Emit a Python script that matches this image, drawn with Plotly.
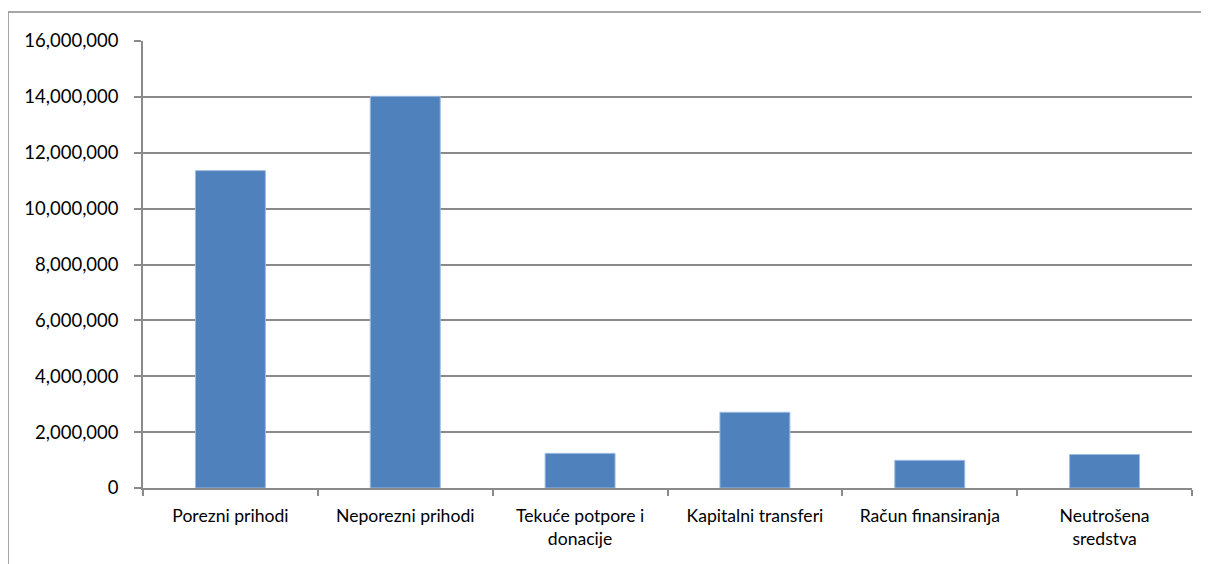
import plotly.graph_objects as go

categories = ["Porezni prihodi", "Neporezni prihodi", "Tekuće potpore i<br>donacije",
              "Kapitalni transferi", "Račun finansiranja", "Neutrošena<br>sredstva"]
values = [11360000, 14020000, 1240000, 2710000, 990000, 1200000]
y_ticks = [0, 2000000, 4000000, 6000000, 8000000, 10000000, 12000000, 14000000, 16000000]

OFF = 8  # browser body margin
W, H = 1209 - OFF, 564 - OFF
L, R, T, B = 143 - OFF, 17, 41 - OFF, 76
pw, ph = W - L - R, H - T - B

fig = go.Figure(go.Bar(
    x=categories, y=values,
    marker=dict(color="#4F81BD", line=dict(color="#9DBBE0", width=1)),
    width=0.4,
))

grid_c = "#8A8A8A"
fig.update_layout(
    width=W, height=H,
    margin=dict(l=L, r=R, t=T, b=B),
    paper_bgcolor="white", plot_bgcolor="white",
    font=dict(family="Lato, Carlito, Liberation Sans, sans-serif", size=17, color="#000000"),
    showlegend=False,
    xaxis=dict(
        tickson="boundaries", ticks="outside", ticklen=6, tickcolor=grid_c, tickwidth=1.5,
        showline=True, linecolor=grid_c, linewidth=1.5,
        showgrid=False, tickfont=dict(size=17.6), ticklabelstandoff=11,
    ),
    yaxis=dict(
        range=[0, 16000000], tickvals=y_ticks, tickformat=",d",
        ticks="outside", ticklen=7, tickcolor=grid_c, tickwidth=1.5,
        showline=True, linecolor=grid_c, linewidth=1.5,
        showgrid=True, gridcolor=grid_c, gridwidth=1.5, zeroline=False,
        ticklabelstandoff=12, tickfont=dict(size=18.5),
    ),
)

# outer frame: page x=8, y=12
fx = (8 - 143) / pw
fy = (488 - 12) / ph
fig.add_shape(type="line", xref="paper", yref="paper", x0=fx, x1=fx, y0=-0.3, y1=fy,
              line=dict(color=grid_c, width=1.5))
fig.add_shape(type="line", xref="paper", yref="paper", x0=fx, x1=1.1, y0=fy, y1=fy,
              line=dict(color=grid_c, width=1.5))

fig.write_html("out.html")
